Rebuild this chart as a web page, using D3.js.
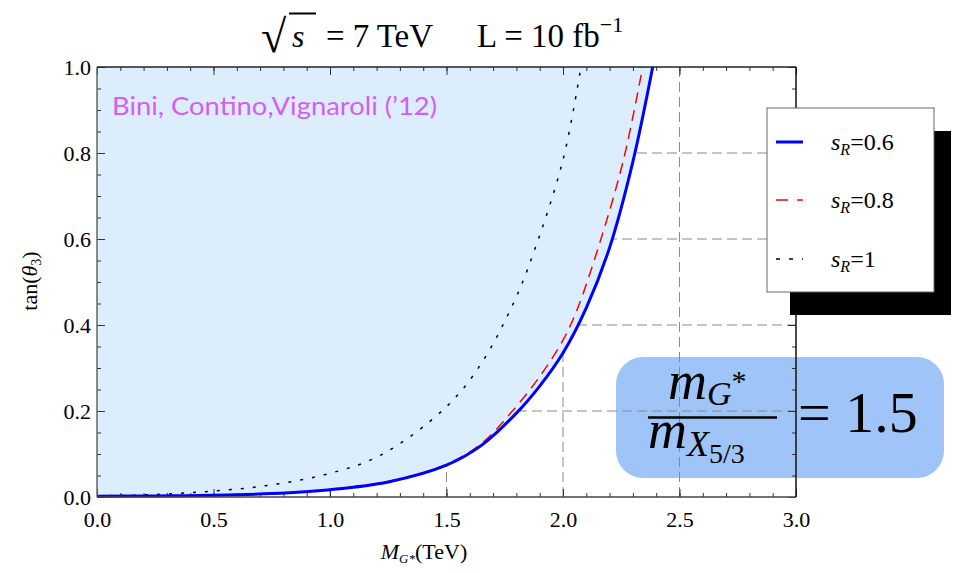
<!DOCTYPE html>
<html><head><meta charset="utf-8">
<script src="https://cdn.jsdelivr.net/npm/d3@7"></script>
<style>body{margin:0;background:#fff}svg{display:block}
.serif{font-family:'Liberation Serif','Times New Roman',serif}
</style>
</head><body>
<svg id="chart" width="953" height="573"></svg>
<script>
// ---- data ----
const xTicks = [0.0, 0.5, 1.0, 1.5, 2.0, 2.5, 3.0];
const yTicks = [0.0, 0.2, 0.4, 0.6, 0.8, 1.0];
const seriesNames = ["0.6", "0.8", "1"];
// s_R = 0.6 (blue solid)
const mG_06 = [0, 0.25, 0.5, 0.75, 1.0, 1.25, 1.5, 1.65, 1.8, 1.9, 2.0, 2.1, 2.2, 2.3, 2.385];
const tan_06 = [0.0015, 0.0025, 0.004, 0.008, 0.017, 0.035, 0.074, 0.12, 0.195, 0.258, 0.335, 0.44, 0.58, 0.78, 1.0];
// s_R = 0.8 (red dashed)
const mG_08 = [0, 0.25, 0.5, 0.75, 1.0, 1.25, 1.5, 1.65, 1.78, 1.9, 2.0, 2.06, 2.16, 2.26, 2.342];
const tan_08 = [0.0015, 0.0025, 0.004, 0.008, 0.018, 0.036, 0.076, 0.124, 0.198, 0.28, 0.365, 0.435, 0.595, 0.785, 1.0];
// s_R = 1 (black dotted)
const mG_10 = [0, 0.15, 0.43, 0.72, 1.0, 1.22, 1.5, 1.65, 1.79, 1.875, 2.0, 2.077];
const tan_10 = [0.003, 0.004, 0.011, 0.026, 0.055, 0.098, 0.21, 0.311, 0.454, 0.57, 0.784, 1.0];

const svg = d3.select("#chart");
const L = 97, R = 796, T = 67, B = 497;
const x = d3.scaleLinear().domain([0, 3]).range([L, R]);
const y = d3.scaleLinear().domain([0, 1]).range([B, T]);
const SERIF = "'Liberation Serif','Times New Roman',serif";

// annotation box (under grid)
svg.append("rect").attr("x", 616).attr("y", 357).attr("width", 328).attr("height", 121)
  .attr("rx", 27).attr("fill", "#9ec4f8");

// grid
const grid = svg.append("g").attr("stroke", "#8a8a8a").attr("stroke-width", 1).attr("stroke-dasharray", "10,5");
xTicks.filter(v => v > 0 && v < 3).forEach(v => grid.append("line").attr("x1", x(v)).attr("x2", x(v)).attr("y1", B).attr("y2", T));
yTicks.filter(v => v > 0 && v < 1).forEach(v => grid.append("line").attr("x1", L).attr("x2", R).attr("y1", y(v)).attr("y2", y(v)));

const toPts = (xs, ys) => xs.map((v, i) => [v, ys[i]]);
const p06 = toPts(mG_06, tan_06), p08 = toPts(mG_08, tan_08), p10 = toPts(mG_10, tan_10);

// fill region above the s_R=0.6 curve
const area = d3.area().x(d => x(d[0])).y0(y(1)).y1(d => y(d[1])).curve(d3.curveCatmullRom);
svg.append("path").datum(p06).attr("d", area).attr("fill", "#dcedfd");

// axes / ticks
const minorX = d3.range(0, 3.001, 0.1), minorY = d3.range(0, 1.001, 0.05);
function ticks(axisFn, scale, vals, size, labels, pad) {
  const a = axisFn(scale).tickValues(vals).tickSizeInner(-size).tickSizeOuter(0).tickPadding(pad || 0);
  if (!labels) a.tickFormat(""); else a.tickFormat(d3.format(".1f"));
  return a;
}
const gB = svg.append("g").attr("transform", `translate(0,${B})`);
gB.call(ticks(d3.axisBottom, x, minorX, 4, false));
gB.append("g").call(ticks(d3.axisBottom, x, xTicks, 8, true, 14));
const gT = svg.append("g").attr("transform", `translate(0,${T})`);
gT.call(ticks(d3.axisTop, x, minorX, 4, false));
gT.append("g").call(ticks(d3.axisTop, x, xTicks, 8, false));
const gL = svg.append("g").attr("transform", `translate(${L},0)`);
gL.call(ticks(d3.axisLeft, y, minorY, 4, false));
gL.append("g").call(ticks(d3.axisLeft, y, yTicks, 8, true, 6));
const gR = svg.append("g").attr("transform", `translate(${R},0)`);
gR.call(ticks(d3.axisRight, y, minorY, 4, false));
gR.append("g").call(ticks(d3.axisRight, y, yTicks, 8, false));
svg.selectAll(".domain").remove();
svg.selectAll(".tick line").attr("stroke", "#333");
[gB, gT, gL, gR].forEach(g => g.attr("font-family", null).attr("font-size", null));
svg.selectAll(".tick text").attr("class", "serif").style("font-family", SERIF).style("font-size", "22px").attr("fill", "#000");

// curves
const line = d3.line().x(d => x(d[0])).y(d => y(d[1])).curve(d3.curveCatmullRom);
svg.append("path").datum(p10).attr("d", line).attr("fill", "none").attr("stroke", "#000").attr("stroke-width", 1.5).attr("stroke-dasharray", "3,9");
svg.append("path").datum(p08).attr("d", line).attr("fill", "none").attr("stroke", "#ff0000").attr("stroke-width", 1.5).attr("stroke-dasharray", "11,7");
svg.append("path").datum(p06).attr("d", line).attr("fill", "none").attr("stroke", "#0000ff").attr("stroke-width", 3);

// frame
svg.append("line").attr("x1", L).attr("x2", L).attr("y1", T).attr("y2", B).attr("stroke", "#666").attr("stroke-width", 1.5);
svg.append("line").attr("x1", L).attr("x2", R).attr("y1", B).attr("y2", B).attr("stroke", "#444").attr("stroke-width", 1.5);
svg.append("line").attr("x1", L).attr("x2", R).attr("y1", T).attr("y2", T).attr("stroke", "#222").attr("stroke-width", 1.5);
svg.append("line").attr("x1", R).attr("x2", R).attr("y1", T).attr("y2", B).attr("stroke", "#111").attr("stroke-width", 1.5);

// Bini label
svg.append("text").attr("x", 112).attr("y", 115).attr("fill", "#d45ef2")
  .style("font-family", "Lato, 'Open Sans', sans-serif").style("font-size", "25px")
  .attr("textLength", 325).attr("lengthAdjust", "spacingAndGlyphs")
  .text("Bini, Contino,Vignaroli (\u201912)");

// helper for serif text
function stext(xp, yp, size) {
  return svg.append("text").attr("x", xp).attr("y", yp).style("font-family", SERIF).style("font-size", size + "px").attr("fill", "#000");
}

// title
stext(261, 52, 46).text("\u221A");
svg.append("line").attr("x1", 289).attr("x2", 316).attr("y1", 13.5).attr("y2", 13.5).attr("stroke", "#000").attr("stroke-width", 2);
stext(292, 47, 32).style("font-style", "italic").text("s");
stext(326, 47, 33).attr("textLength", 107).text("= 7 TeV");
const tl = stext(477, 47, 33);
tl.append("tspan").text("L = 10 fb");
tl.append("tspan").attr("dy", -15).style("font-size", "22px").text("\u22121");

// axis titles
const xt = stext(424, 559, 22).attr("text-anchor", "middle");
xt.append("tspan").style("font-style", "italic").text("M");
xt.append("tspan").style("font-style", "italic").style("font-size", "13px").attr("dy", 4).text("G*");
xt.append("tspan").attr("dy", -4).text("(TeV)");
const yt = stext(0, 0, 22).attr("transform", "translate(37,281) rotate(-90)").attr("text-anchor", "middle");
yt.append("tspan").text("tan(");
yt.append("tspan").style("font-style", "italic").text("\u03B8");
yt.append("tspan").style("font-size", "14px").attr("dy", 4).text("3");
yt.append("tspan").attr("dy", -4).text(")");

// legend
svg.append("rect").attr("x", 790).attr("y", 131).attr("width", 161).attr("height", 184).attr("fill", "#000");
svg.append("rect").attr("x", 767).attr("y", 108).attr("width", 167).attr("height", 184).attr("fill", "#fff").attr("stroke", "#666").attr("stroke-width", 1);
const legStyles = [
  {c: "#0000ff", w: 3, d: null, ly: 142, ty: 150},
  {c: "#ff0000", w: 1.5, d: "12,9", ly: 200, ty: 208},
  {c: "#000", w: 1.5, d: "4,9", ly: 259, ty: 267}
];
seriesNames.forEach((n, i) => {
  const s = legStyles[i];
  svg.append("line").attr("x1", 776).attr("x2", 803).attr("y1", s.ly).attr("y2", s.ly)
    .attr("stroke", s.c).attr("stroke-width", s.w).attr("stroke-dasharray", s.d);
  const t = stext(831, s.ty, 24);
  t.append("tspan").style("font-style", "italic").text("s");
  t.append("tspan").style("font-style", "italic").style("font-size", "16px").attr("dy", 5).text("R");
  t.append("tspan").attr("dy", -5).text("=" + n);
});

// annotation text
svg.append("line").attr("x1", 648).attr("x2", 777).attr("y1", 417.5).attr("y2", 417.5).attr("stroke", "#000").attr("stroke-width", 2.5);
const num = stext(668, 399, 54);
num.append("tspan").style("font-style", "italic").text("m");
num.append("tspan").style("font-style", "italic").style("font-size", "34px").attr("dy", 6).text("G");
num.append("tspan").style("font-size", "30px").attr("dy", -14).text("*");
const den = stext(648, 448, 54);
den.append("tspan").style("font-style", "italic").text("m");
den.append("tspan").style("font-style", "italic").style("font-size", "36px").attr("dy", 8).text("X");
den.append("tspan").style("font-size", "28px").attr("dy", 7).text("5/3");
stext(798, 432, 58).text("= 1.5");
</script>
</body></html>
